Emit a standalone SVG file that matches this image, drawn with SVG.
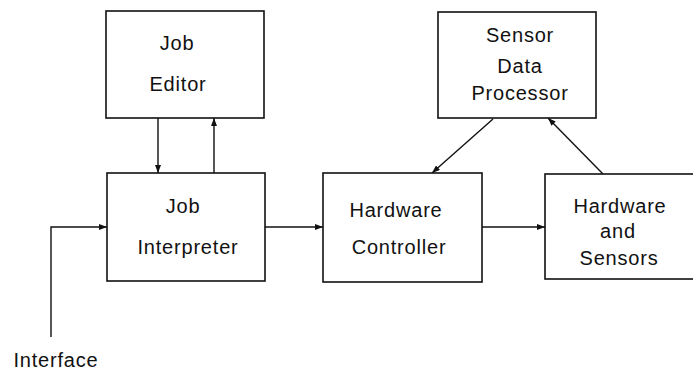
<svg xmlns="http://www.w3.org/2000/svg" width="693" height="372" viewBox="0 0 693 372">
<style>
.box{fill:#fff;stroke:#111;stroke-width:1.6}
.t{font-family:"Liberation Sans",Arial,Helvetica,sans-serif;font-size:20px;fill:#111;text-anchor:middle;letter-spacing:0.8px}
.c{stroke:#111;stroke-width:1.4;fill:none}
</style>
<defs>
<marker id="ah" viewBox="0 0 8 6" refX="8" refY="3" markerWidth="8" markerHeight="6" markerUnits="userSpaceOnUse" orient="auto">
<path d="M0,0 L8,3 L0,6 Z" fill="#111"/>
</marker>
</defs>
<rect width="693" height="372" fill="#fff"/>
<g id="connectors">
<line class="c" x1="158" y1="118" x2="158" y2="173" marker-end="url(#ah)"/>
<line class="c" x1="214" y1="173" x2="214" y2="118" marker-end="url(#ah)"/>
<polyline class="c" points="51,337 51,227 107,227" marker-end="url(#ah)"/>
<line class="c" x1="265" y1="227" x2="323" y2="227" marker-end="url(#ah)"/>
<line class="c" x1="482" y1="227" x2="545" y2="227" marker-end="url(#ah)"/>
<line class="c" x1="493" y1="119" x2="432" y2="173" marker-end="url(#ah)"/>
<line class="c" x1="603" y1="174" x2="548" y2="118" marker-end="url(#ah)"/>
</g>
<g id="job-editor">
<rect class="box" x="106" y="11" width="158" height="107"/>
<text class="t" x="177" y="50">Job</text>
<text class="t" x="178" y="91">Editor</text>
</g>
<g id="job-interpreter">
<rect class="box" x="107" y="173" width="158" height="108"/>
<text class="t" x="183" y="213">Job</text>
<text class="t" x="188" y="254">Interpreter</text>
</g>
<g id="hardware-controller">
<rect class="box" x="323" y="173" width="159" height="109"/>
<text class="t" x="396" y="217">Hardware</text>
<text class="t" x="399" y="254">Controller</text>
</g>
<g id="hardware-sensors">
<rect class="box" x="545" y="174" width="160" height="105"/>
<text class="t" x="620" y="213">Hardware</text>
<text class="t" x="618" y="238">and</text>
<text class="t" x="619" y="265">Sensors</text>
</g>
<g id="sensor-data-processor">
<rect class="box" x="438" y="12" width="158" height="106"/>
<text class="t" x="520" y="42">Sensor</text>
<text class="t" x="520" y="73">Data</text>
<text class="t" x="520" y="100">Processor</text>
</g>
<g id="interface">
<text class="t" x="56" y="367">Interface</text>
</g>
</svg>
